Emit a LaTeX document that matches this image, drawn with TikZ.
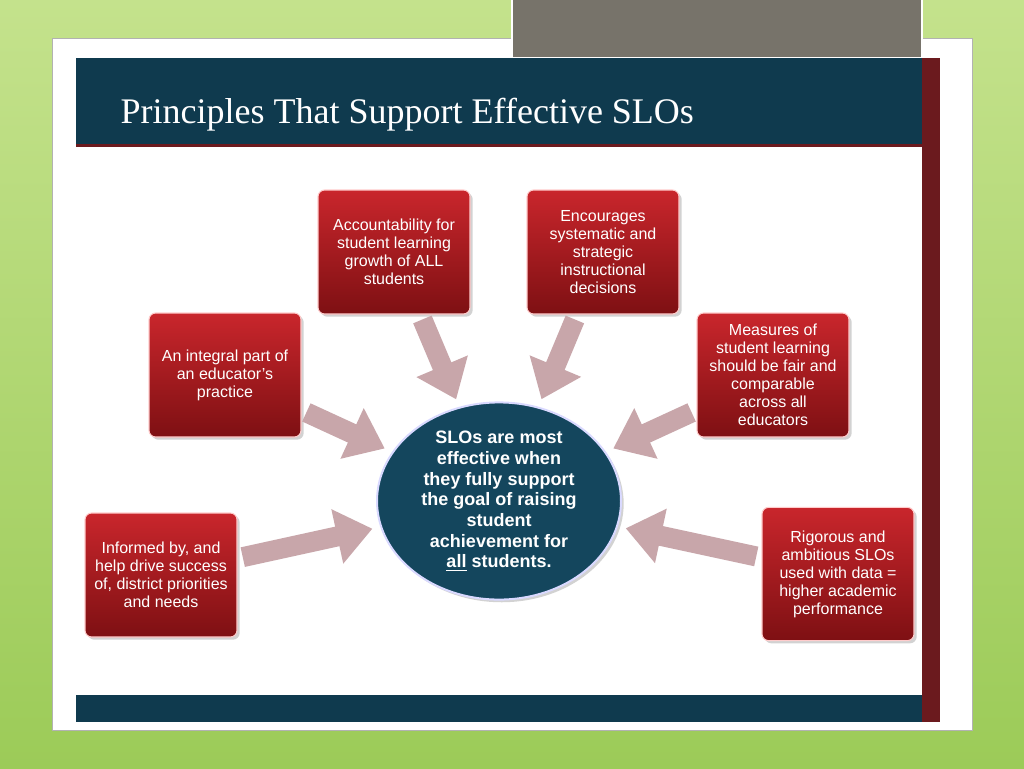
\documentclass[tikz,border=0pt]{standalone}
\usepackage{fontspec}
\setmainfont{Liberation Sans}
\newfontfamily\titlefont{Liberation Serif}
\usetikzlibrary{arrows.meta, positioning, calc, shadows, shapes.geometric}
\definecolor{bggreen}{HTML}{9CCB58}
\definecolor{bglight}{HTML}{C4E28C}
\definecolor{tabgray}{HTML}{77736A}
\definecolor{navy}{HTML}{0F3A4E}
\definecolor{darkred}{HTML}{6B1A1E}
\definecolor{boxtop}{HTML}{C9262C}
\definecolor{boxbot}{HTML}{7E1013}
\definecolor{coreblue}{HTML}{14465D}
\definecolor{arrowpink}{HTML}{C8A6AA}
\tikzset{
  ideabox/.style={draw=red!20!white, line width=0.8pt, rounded corners=5pt,
    top color=boxtop, bottom color=boxbot, text=white, align=center,
    font=\fontsize{12}{13.5}\selectfont, inner sep=4pt,
    drop shadow={opacity=0.35, shadow xshift=2pt, shadow yshift=-2pt}},
  blockarrow/.style={line width=15pt, draw=arrowpink,
    -{Triangle[width=40pt, length=27pt]}, shorten <=4pt, shorten >=6pt}
}
\begin{document}
\begin{tikzpicture}[x=0.75pt, y=-0.75pt]
  \useasboundingbox (0,0) rectangle (1024,768);
  % background and slide frame
  \shade[top color=bglight, bottom color=bggreen] (0,0) rectangle (1024,768);
  \fill[white, draw=gray!60] (52,38) rectangle (972,730);
  \fill[tabgray, draw=white, line width=1pt] (512,-2) rectangle (922,58);
  \fill[white] (76,58) rectangle (922,722);
  \fill[navy] (76,58) rectangle (922,144);
  \fill[darkred] (76,144) rectangle (922,147);
  \fill[darkred] (922,58) rectangle (940,722);
  \fill[navy] (76,695) rectangle (922,722);
  \node[anchor=west, text=white, font=\titlefont\fontsize{27}{30}\selectfont] (title) at (116,115) {Principles That Support Effective SLOs};

  % center
  \node[ellipse, draw=blue!15!white, line width=1.5pt, fill=coreblue, text=white,
    minimum width=183pt, minimum height=117pt, inner sep=0pt, align=center,
    font=\bfseries\fontsize{13.5}{15.5}\selectfont,
    drop shadow={opacity=0.35, shadow xshift=2pt, shadow yshift=-2pt}] (core) at (499,501)
    {SLOs are most\\effective when\\they fully support\\the goal of raising\\student\\achievement for\\\underline{all} students.};

  % surrounding boxes
  \node[ideabox, minimum width=114pt, minimum height=93pt] (acc) at (394,252) {Accountability for\\student learning\\growth of ALL\\students};
  \node[ideabox, minimum width=114pt, minimum height=93pt] (enc) at (603,252) {Encourages\\systematic and\\strategic\\instructional\\decisions};
  \node[ideabox, minimum width=114pt, minimum height=93pt] (integral) at (225,375) {An integral part of\\an educator's\\practice};
  \node[ideabox, minimum width=114pt, minimum height=93pt] (fair) at (773,375) {Measures of\\student learning\\should be fair and\\comparable\\across all\\educators};
  \node[ideabox, minimum width=114pt, minimum height=93pt] (informed) at (161,575) {Informed by, and\\help drive success\\of, district priorities\\and needs};
  \node[ideabox, minimum width=114pt, minimum height=100pt] (rigor) at (838,574) {Rigorous and\\ambitious SLOs\\used with data =\\higher academic\\performance};

  \draw[blockarrow] (acc) -- (core);
  \draw[blockarrow] (enc) -- (core);
  \draw[blockarrow] (integral) -- (core);
  \draw[blockarrow] (fair) -- (core);
  \draw[blockarrow] (informed) -- (core);
  \draw[blockarrow] (rigor) -- (core);
\end{tikzpicture}
\end{document}
